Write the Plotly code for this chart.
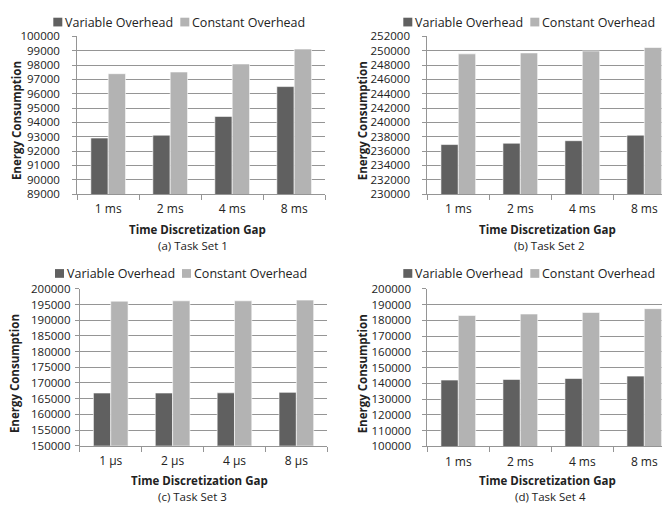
import plotly.graph_objects as go

W, H = 669, 510

cats_ms = ["1 ms", "2 ms", "4 ms", "8 ms"]
cats_us = ["1 µs", "2 µs", "4 µs", "8 µs"]

var_a = [92910, 93110, 94420, 96500]
const_a = [97400, 97520, 98080, 99120]
var_b = [236910, 237100, 237450, 238220]
const_b = [249570, 249700, 249970, 250460]
var_c = [166800, 166800, 166850, 167000]
const_c = [196070, 196170, 196170, 196400]
var_d = [142100, 142500, 143100, 144600]
const_d = [183100, 184000, 185000, 187400]

captions = ["(a) Task Set 1", "(b) Task Set 2", "(c) Task Set 3", "(d) Task Set 4"]
series_names = ["Variable Overhead", "Constant Overhead"]

DARK = "#606060"
LIGHT = "#b3b3b3"
GRID = "#959595"
TXT = "#222222"
FONT = "Open Sans"

# panel geometry in pixels
panels = [
    dict(cats=cats_ms, v=var_a, c=const_a, x0=77.2, x1=325.2, y0=29.3, y1=191.7,
         yr=[89000, 100000], dt=1000, xr=[-0.5, 3.5], sto=10, ytx=16.5, yty=116,
         xtx=197, xty=228.0, cx=193, cy=244.2, lx=53.3, ly=14.5),
    dict(cats=cats_ms, v=var_b, c=const_b, x0=427.3, x1=661.7, y0=29.3, y1=191.7,
         yr=[230000, 252000], dt=2000, xr=[-0.5, 3.5 - (675.3 - 661.7) / 62], sto=10,
         ytx=362.7, yty=116, xtx=547.5, xty=228.0, cx=549, cy=244.2, lx=403.3, ly=14.5),
    dict(cats=cats_us, v=var_c, c=const_c, x0=79.8, x1=327.3, y0=289.3, y1=451.0,
         yr=[150000, 200000], dt=5000, xr=[-0.5, 3.5], sto=2, ytx=14.5, yty=376.7,
         xtx=199, xty=487.0, cx=192, cy=503.2, lx=55, ly=273.5),
    dict(cats=cats_ms, v=var_d, c=const_d, x0=427.3, x1=661.7, y0=289.3, y1=451.7,
         yr=[100000, 200000], dt=10000, xr=[-0.5, 3.5 - (675.3 - 661.7) / 62], sto=9,
         ytx=362.7, yty=376.7, xtx=547.5, xty=487.0, cx=550, cy=503.2, lx=403.3, ly=273.5),
]

fig = go.Figure()
annotations = []
shapes = []

def px_x(x):
    return x / W

def px_y(y):
    return 1 - y / H

for i, p in enumerate(panels):
    sfx = "" if i == 0 else str(i + 1)
    xa = "x" + sfx
    ya = "y" + sfx
    for vals, col, nm in [(p["v"], DARK, series_names[0]), (p["c"], LIGHT, series_names[1])]:
        fig.add_trace(go.Bar(x=p["cats"], y=vals, name=nm, marker_color=col,
                             marker_line=dict(color="white", width=0.6),
                             xaxis=xa, yaxis=ya, showlegend=False))
    fig.layout["xaxis" + sfx] = dict(
        domain=[px_x(p["x0"]), px_x(p["x1"])], anchor=ya, range=p["xr"],
        type="category", showline=True, linecolor=GRID, linewidth=1,
        ticks="outside", tickson="boundaries", ticklen=5, tickcolor=GRID,
        showgrid=False, tickfont=dict(family=FONT, size=12, color=TXT),
        ticklabelstandoff=4, fixedrange=True)
    fig.layout["yaxis" + sfx] = dict(
        domain=[px_y(p["y1"]), px_y(p["y0"])], anchor=xa, range=p["yr"],
        dtick=p["dt"], tick0=p["yr"][0], showline=True, linecolor=GRID, linewidth=1,
        ticks="outside", ticklen=4, tickcolor=GRID, showgrid=True,
        gridcolor=GRID, gridwidth=1, zeroline=False,
        tickfont=dict(family=FONT, size=11.5, color=TXT), tickformat="d",
        ticklabelstandoff=p["sto"], fixedrange=True)
    # y title
    annotations.append(dict(text="<b>Energy Consumption</b>", xref="paper", yref="paper",
                            x=px_x(p["ytx"]), y=px_y(p["yty"]), textangle=-90,
                            showarrow=False, xanchor="center", yanchor="middle",
                            font=dict(family=FONT, size=11.5, color=TXT)))
    # x title
    annotations.append(dict(text="<b>Time Discretization Gap</b>", xref="paper", yref="paper",
                            x=px_x(p["xtx"]), y=px_y(p["xty"]), showarrow=False,
                            xanchor="center", yanchor="middle", borderpad=0,
                            font=dict(family=FONT, size=11.5, color=TXT)))
    # caption
    annotations.append(dict(text=captions[i], xref="paper", yref="paper",
                            x=px_x(p["cx"]), y=px_y(p["cy"]), showarrow=False,
                            xanchor="center", yanchor="middle", borderpad=0,
                            font=dict(family=FONT, size=11.5, color=TXT)))
    # legend (squares + labels)
    lx, ly = p["lx"], p["ly"]
    offs = [(0, DARK, series_names[0]), (127, LIGHT, series_names[1])]
    for dx, col, nm in offs:
        sx = lx + dx
        shapes.append(dict(type="rect", xref="paper", yref="paper",
                           x0=px_x(sx), x1=px_x(sx + 9), y0=px_y(ly + 4.5), y1=px_y(ly - 4.5),
                           fillcolor=col, line=dict(width=0)))
        annotations.append(dict(text=nm, xref="paper", yref="paper",
                                x=px_x(sx + 9.5), y=px_y(ly), showarrow=False,
                                xanchor="left", yanchor="middle",
                                font=dict(family=FONT, size=12.5, color=TXT)))

fig.update_layout(
    width=W, height=H, margin=dict(l=0, r=0, t=0, b=0),
    paper_bgcolor="white", plot_bgcolor="white",
    barmode="group", bargap=0.44, bargroupgap=0,
    annotations=annotations, shapes=shapes,
    showlegend=False,
)

fig.write_html("out.html", config={"displayModeBar": False},
               post_script="document.body.style.margin='0';document.body.style.overflow='hidden';")
